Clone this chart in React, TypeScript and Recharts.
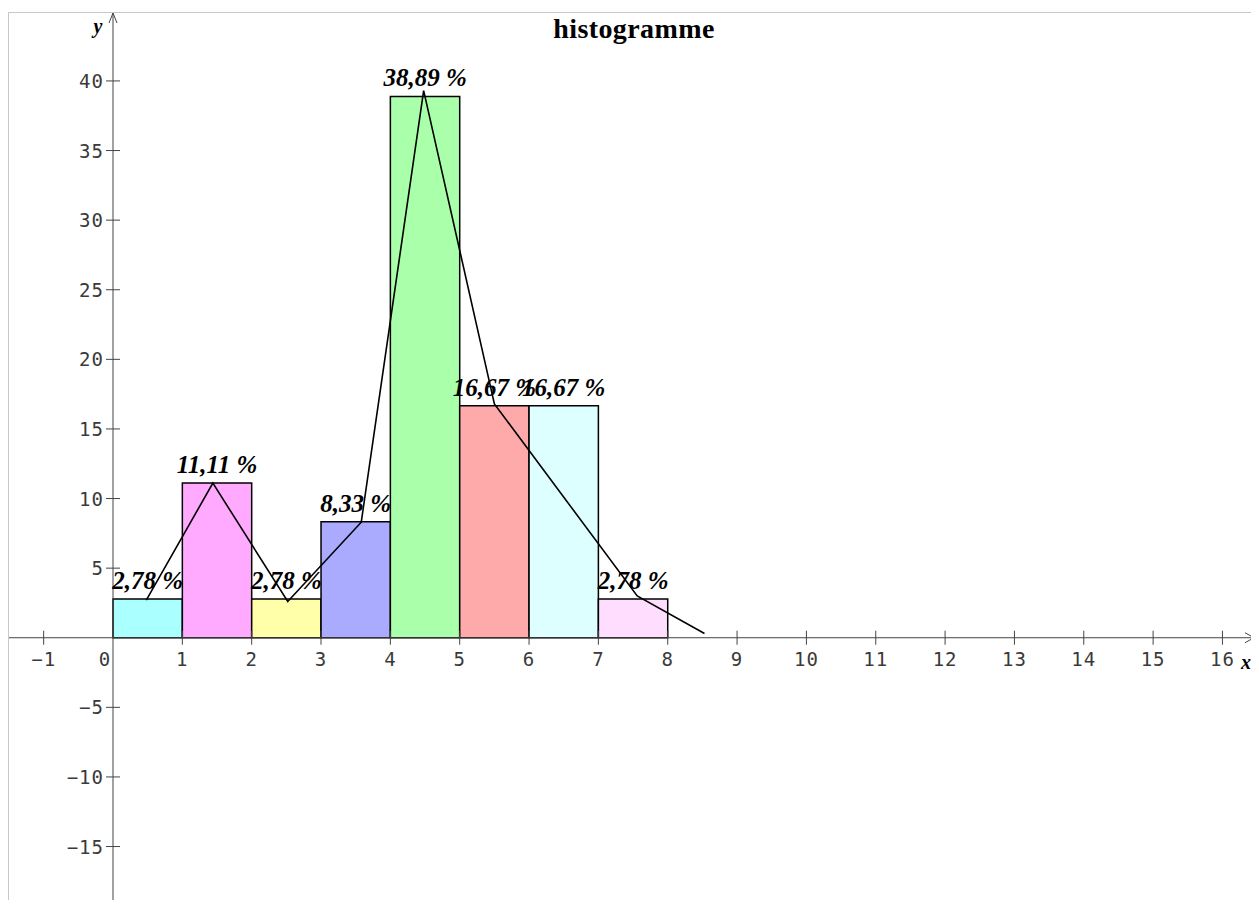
import React from 'react';
import {
  ComposedChart,
  XAxis,
  YAxis,
  Line,
  ReferenceArea,
  ReferenceLine,
  ReferenceDot,
} from 'recharts';

// classes [start, end) and their share in %
const classStarts = [0, 1, 2, 3, 4, 5, 6, 7];
const classEnds = [1, 2, 3, 4, 5, 6, 7, 8];
const percents = [2.78, 11.11, 2.78, 8.33, 38.89, 16.67, 16.67, 2.78];
const barLabels = ['2,78 %', '11,11 %', '2,78 %', '8,33 %', '38,89 %', '16,67 %', '16,67 %', '2,78 %'];
const barColors = ['#aaffff', '#ffaaff', '#ffffaa', '#aaaaff', '#aaffaa', '#ffaaaa', '#ddffff', '#ffddff'];

// frequency polygon as drawn
const polyX = [0.48, 1.44, 2.52, 3.58, 4.48, 5.5, 7.56, 8.53];
const polyY = [2.7, 11.11, 2.6, 8.3, 39.3, 16.8, 3.0, 0.3];

const xTicks = [-1, 1, 2, 3, 4, 5, 6, 7, 8, 9, 10, 11, 12, 13, 14, 15, 16];
const yTicks = [-15, -10, -5, 5, 10, 15, 20, 25, 30, 35, 40];

const X_DOMAIN: [number, number] = [-1.5, 16.455];
const Y_DOMAIN: [number, number] = [-18.84, 44.88];

const polyData = polyX.map((x, i) => ({ x, y: polyY[i] }));

const tickFont = {
  fontFamily: '"DejaVu Sans Mono", monospace',
  fontSize: 19,
  letterSpacing: 1,
  fill: '#3a3a3a',
};

const labelFont = {
  fontFamily: '"Liberation Serif", "Times New Roman", serif',
  fontWeight: 700,
  fontStyle: 'italic',
};

const fmt = (v: number) => (v < 0 ? '\u2212' + Math.abs(v) : String(v));

export default function App() {
  return (
    <div style={{ paddingTop: 4 }}>
      <div
        style={{
          position: 'relative',
          width: 1245,
          height: 887,
          borderTop: '1px solid #c8c8c8',
          borderLeft: '1px solid #c8c8c8',
          borderRight: '1px solid #c8c8c8',
        }}
      >
        <ComposedChart
          width={1245}
          height={887}
          data={polyData}
          margin={{ top: 0, right: 0, bottom: 0, left: 0 }}
        >
          <XAxis dataKey="x" type="number" domain={X_DOMAIN} allowDataOverflow hide />
          <YAxis type="number" domain={Y_DOMAIN} allowDataOverflow hide />

          {classStarts.map((s, i) => (
            <ReferenceArea
              key={`bar-${i}`}
              x1={s}
              x2={classEnds[i]}
              y1={0}
              y2={percents[i]}
              fill={barColors[i]}
              fillOpacity={1}
              stroke="#000"
              strokeWidth={1.5}
              ifOverflow="visible"
              label={{
                value: barLabels[i],
                position: 'top',
                offset: 10,
                fill: '#000',
                fontSize: 25,
                ...labelFont,
              }}
            />
          ))}

          {/* axes through the origin */}
          <ReferenceLine y={0} stroke="#444" strokeWidth={1} ifOverflow="visible" />
          <ReferenceLine x={0} stroke="#444" strokeWidth={1} ifOverflow="visible" />

          {xTicks.map((t) => (
            <ReferenceDot
              key={`xt-${t}`}
              x={t}
              y={0}
              ifOverflow="visible"
              shape={(p: any) => (
                <g>
                  <line x1={p.cx} y1={p.cy - 7} x2={p.cx} y2={p.cy + 7} stroke="#444" strokeWidth={1} />
                  <text x={p.cx} y={p.cy + 28} textAnchor="middle" {...tickFont}>
                    {fmt(t)}
                  </text>
                </g>
              )}
            />
          ))}
          <ReferenceDot
            x={0}
            y={0}
            ifOverflow="visible"
            shape={(p: any) => (
              <text x={p.cx - 8} y={p.cy + 28} textAnchor="middle" {...tickFont}>
                0
              </text>
            )}
          />
          {yTicks.map((t) => (
            <ReferenceDot
              key={`yt-${t}`}
              x={0}
              y={t}
              ifOverflow="visible"
              shape={(p: any) => (
                <g>
                  <line x1={p.cx - 7} y1={p.cy} x2={p.cx + 7} y2={p.cy} stroke="#444" strokeWidth={1} />
                  <text x={p.cx - 9} y={p.cy + 7} textAnchor="end" {...tickFont}>
                    {fmt(t)}
                  </text>
                </g>
              )}
            />
          ))}

          {/* arrow heads and axis names */}
          <ReferenceDot
            x={X_DOMAIN[1]}
            y={0}
            ifOverflow="visible"
            shape={(p: any) => (
              <g>
                <polyline
                  points={`${p.cx - 9},${p.cy - 5} ${p.cx},${p.cy} ${p.cx - 9},${p.cy + 5}`}
                  fill="none"
                  stroke="#444"
                />
                <text x={p.cx - 8} y={p.cy + 31} textAnchor="middle" fontSize={20} fill="#000" {...labelFont}>
                  x
                </text>
              </g>
            )}
          />
          <ReferenceDot
            x={0}
            y={Y_DOMAIN[1]}
            ifOverflow="visible"
            shape={(p: any) => (
              <g>
                <polyline
                  points={`${p.cx - 4},${p.cy + 10} ${p.cx},${p.cy} ${p.cx + 4},${p.cy + 10}`}
                  fill="none"
                  stroke="#444"
                />
                <text x={p.cx - 15} y={p.cy + 20} textAnchor="middle" fontSize={20} fill="#000" {...labelFont}>
                  y
                </text>
              </g>
            )}
          />

          <Line
            dataKey="y"
            stroke="#000"
            strokeWidth={1.6}
            dot={false}
            activeDot={false}
            isAnimationActive={false}
          />

          <text
            x={625}
            y={25}
            textAnchor="middle"
            fontFamily='"Liberation Serif", "Times New Roman", serif'
            fontWeight={700}
            fontSize={28}
            letterSpacing={0.4}
            fill="#000"
          >
            histogramme
          </text>
        </ComposedChart>
      </div>
    </div>
  );
}
